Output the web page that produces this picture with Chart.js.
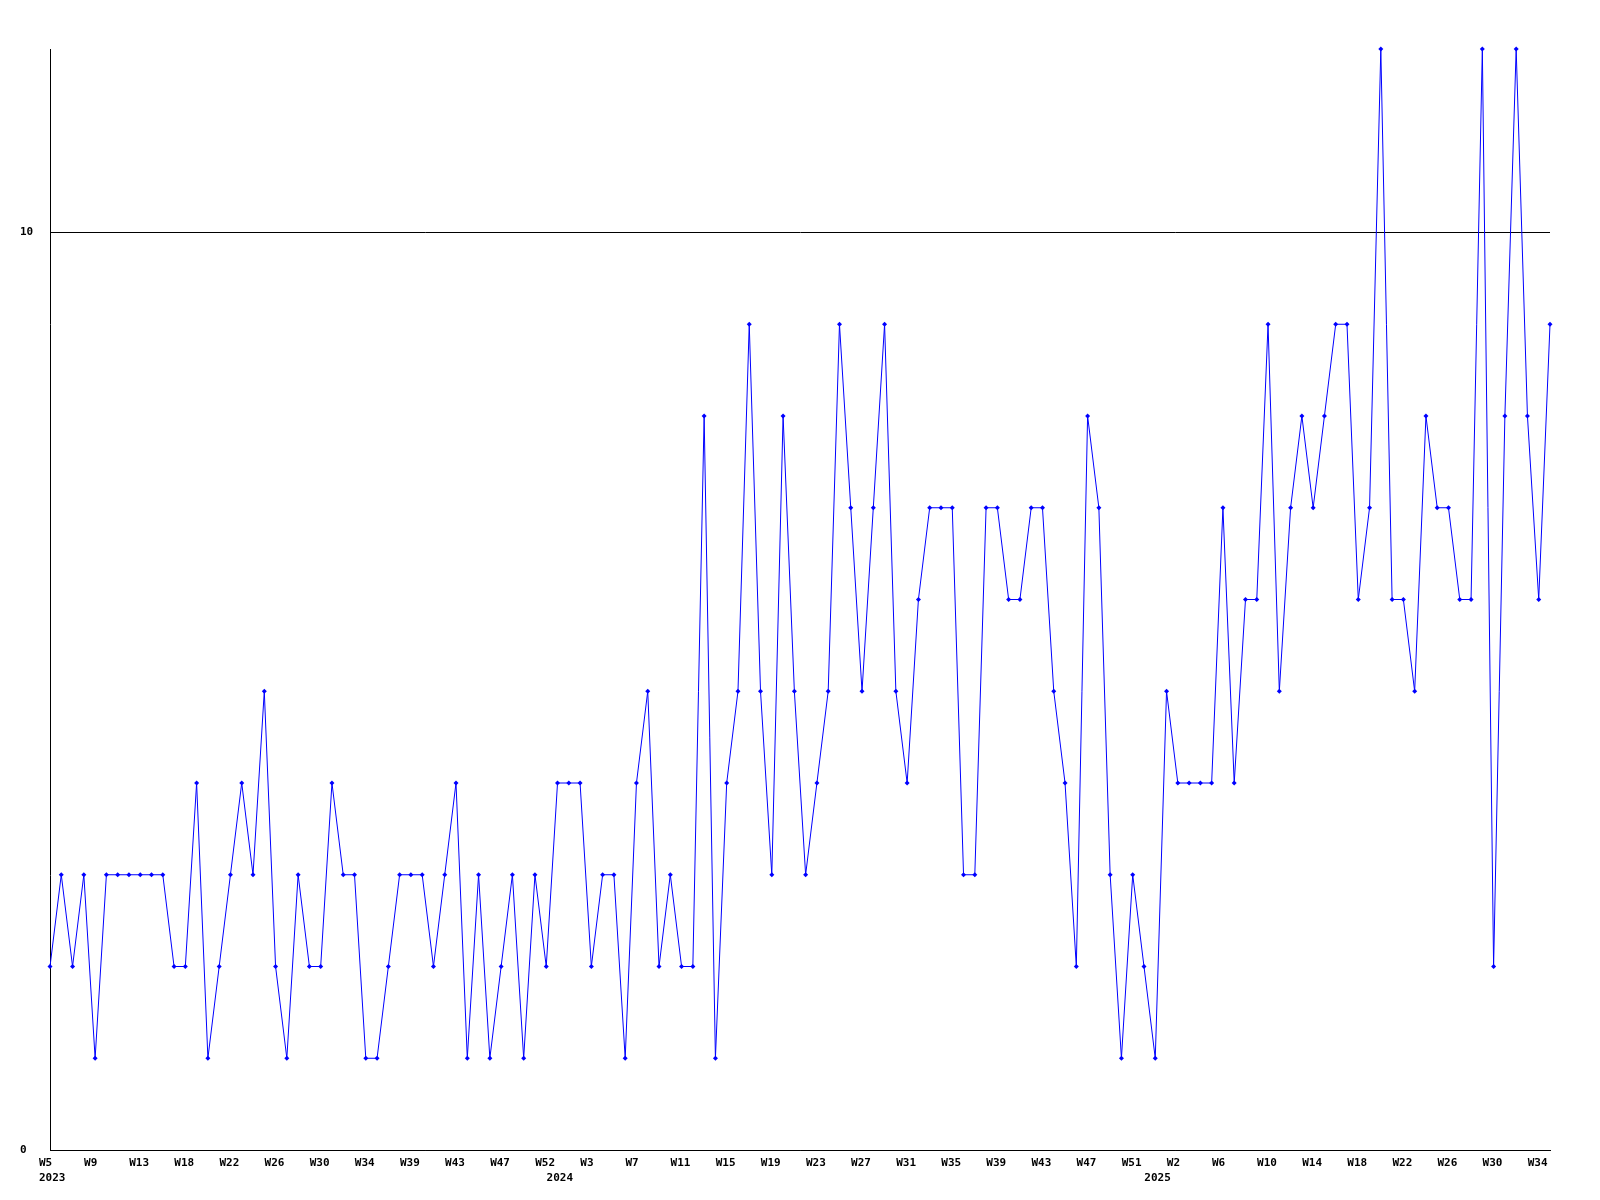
<!DOCTYPE html>
<html>
<head>
<meta charset="utf-8">
<script src="https://cdn.jsdelivr.net/npm/chart.js@4/dist/chart.umd.min.js"></script>
<style>
    body { margin: 0; background: #fff; }
    #chart { display: block; }
</style>
</head>
<body>
<canvas id="chart" width="1600" height="1200"></canvas>
<script>
// weekly counts, one per point
const values = [
    2, 3, 2, 3, 1, 3, 3, 3, 3, 3,
    3, 2, 2, 4, 1, 2, 3, 4, 3, 5,
    2, 1, 3, 2, 2, 4, 3, 3, 1, 1,
    2, 3, 3, 3, 2, 3, 4, 1, 3, 1,
    2, 3, 1, 3, 2, 4, 4, 4, 2, 3,
    3, 1, 4, 5, 2, 3, 2, 2, 8, 1,
    4, 5, 9, 5, 3, 8, 5, 3, 4, 5,
    9, 7, 5, 7, 9, 5, 4, 6, 7, 7,
    7, 3, 3, 7, 7, 6, 6, 7, 7, 5,
    4, 2, 8, 7, 3, 1, 3, 2, 1, 5,
    4, 4, 4, 4, 7, 4, 6, 6, 9, 5,
    7, 8, 7, 8, 9, 9, 6, 7, 12, 6,
    6, 5, 8, 7, 7, 6, 6, 12, 2, 8,
    12, 8, 6, 9
];

// a week label on every 4th point
const weekLabels = ['W5', 'W9', 'W13', 'W18', 'W22', 'W26', 'W30', 'W34', 'W39', 'W43', 'W47', 'W52',
    'W3', 'W7', 'W11', 'W15', 'W19', 'W23', 'W27', 'W31', 'W35', 'W39', 'W43', 'W47', 'W51',
    'W2', 'W6', 'W10', 'W14', 'W18', 'W22', 'W26', 'W30', 'W34'];
const weekStep = 4;

const years = ['2023', '2024', '2025'];
const yearAt = [0, 45, 98];

const yTicks = [0, 10];
const yMax = 12;

const categories = values.map((v, i) => {
    const week = i % weekStep === 0 ? weekLabels[i / weekStep] : '';
    const y = yearAt.indexOf(i);
    return y >= 0 ? [week, years[y]] : week;
});

const labelFont = { family: 'DejaVu Sans Mono', size: 11, weight: 'bold', lineHeight: 1.35 };

const ctx = document.getElementById('chart').getContext('2d');
const chart = new Chart(ctx, {
    type: 'line',
    data: {
        labels: categories,
        datasets: [{
            data: values,
            borderColor: '#0000ff',
            backgroundColor: '#0000ff',
            borderWidth: 1,
            tension: 0,
            fill: false,
            pointStyle: 'rectRot',
            pointRadius: 2.5,
            pointBorderWidth: 0,
            clip: false
        }]
    },
    options: {
        responsive: false,
        animation: false,
        devicePixelRatio: 1,
        layout: { padding: { left: 20, right: 50, top: 49, bottom: 0 } },
        plugins: {
            legend: { display: false },
            tooltip: { enabled: false }
        },
        scales: {
            x: {
                type: 'category',
                offset: false,
                grid: { display: false, drawTicks: false },
                border: { display: true, color: '#000', width: 1 },
                ticks: {
                    autoSkip: false,
                    maxRotation: 0,
                    minRotation: 0,
                    align: 'start',
                    labelOffset: -11,
                    padding: 6,
                    color: '#000',
                    font: labelFont
                },
                afterFit: function(scale) { scale.height = 50; }
            },
            y: {
                min: 0,
                max: yMax,
                afterBuildTicks: function(scale) {
                    scale.ticks = yTicks.map(v => ({ value: v }));
                },
                grid: { color: '#000', lineWidth: 1, drawTicks: false },
                border: { display: true, color: '#000', width: 1 },
                ticks: {
                    crossAlign: 'far',
                    padding: 0,
                    color: '#000',
                    font: labelFont
                },
                afterFit: function(scale) { scale.width = 30; }
            }
        }
    }
});
</script>
</body>
</html>
